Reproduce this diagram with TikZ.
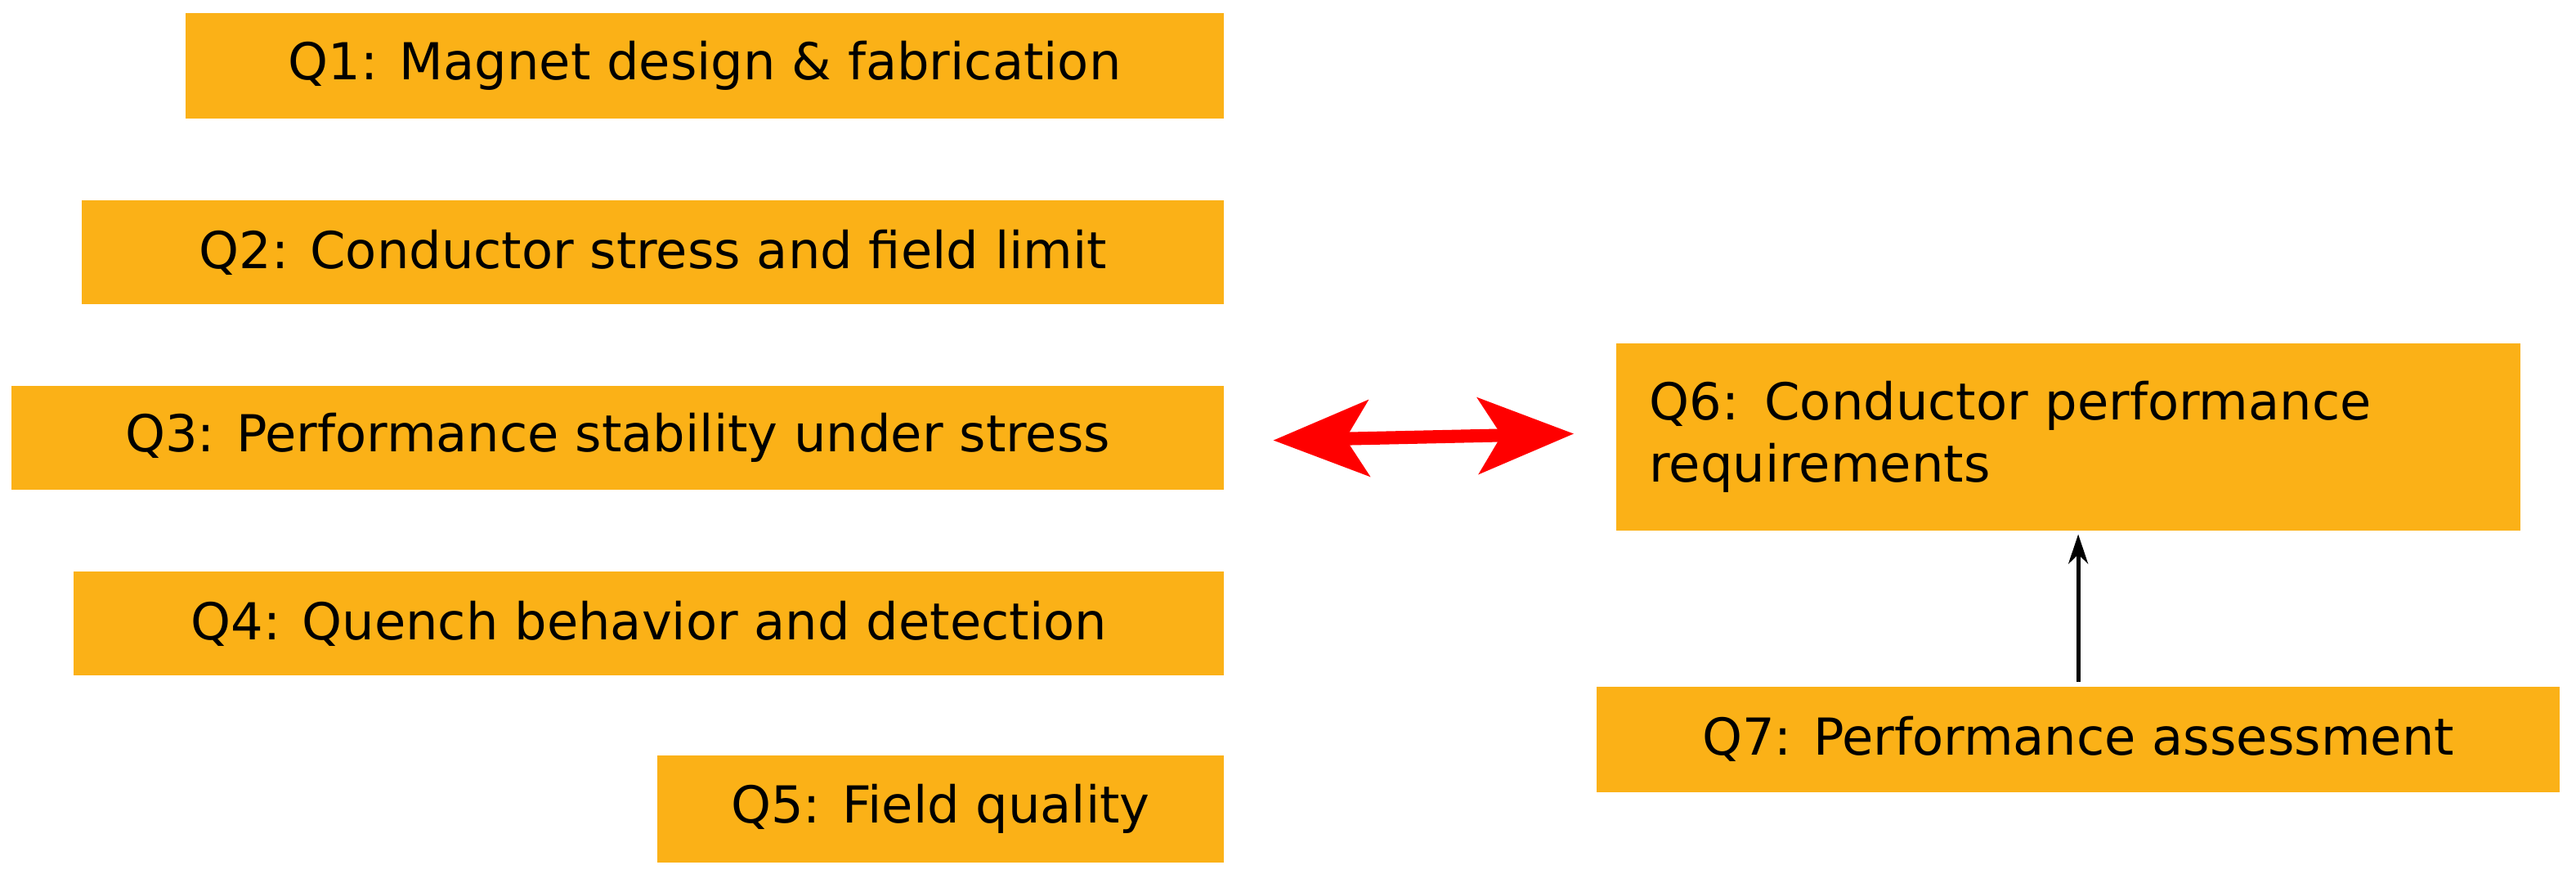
\documentclass[tikz,border=0pt]{standalone}
\usepackage{fontspec}
\setmainfont{DejaVu Sans}
\usetikzlibrary{arrows.meta}
\definecolor{boxc}{HTML}{FBB117}
\begin{document}
\begin{tikzpicture}[x=1pt,y=-1pt,
  box/.style={fill=boxc,draw=none,inner sep=0pt,font=\fontsize{31}{38}\selectfont,text=black}]
\useasboundingbox (0,0) rectangle (1568,537);
\node[box,minimum width=632pt,minimum height=64pt] (q1) at (429,40) {Q1: Magnet design \& fabrication};
\node[box,minimum width=695pt,minimum height=63pt] (q2) at (397.5,153.5) {Q2: Conductor stress and field limit};
\node[box,minimum width=738pt,minimum height=63pt] (q3) at (376,266.5) {Q3: Performance stability under stress};
\node[box,minimum width=700pt,minimum height=63pt] (q4) at (395,379.5) {Q4: Quench behavior and detection};
\node[box,minimum width=345pt,minimum height=65pt] (q5) at (572.5,492.5) {Q5: Field quality};
\node[box,minimum width=550pt,minimum height=114pt,text width=510pt,align=left] (q6) at (1259,266) {Q6: Conductor performance\\requirements};
\node[box,minimum width=586pt,minimum height=64pt] (q7) at (1265,450) {Q7: Performance assessment};
\coordinate (a) at (775,268);
\coordinate (b) at (958,264);
\draw[red,line width=8pt,{Stealth[length=58pt,width=46pt,inset=14pt]}-{Stealth[length=58pt,width=46pt,inset=14pt]}] (a) -- (b);
\draw[black,line width=2.5pt,-{Stealth[length=18pt,width=12pt]}] (q7.north) ++(0,-3) -- ([yshift=-2pt]q6.south -| q7.north);
\end{tikzpicture}
\end{document}
